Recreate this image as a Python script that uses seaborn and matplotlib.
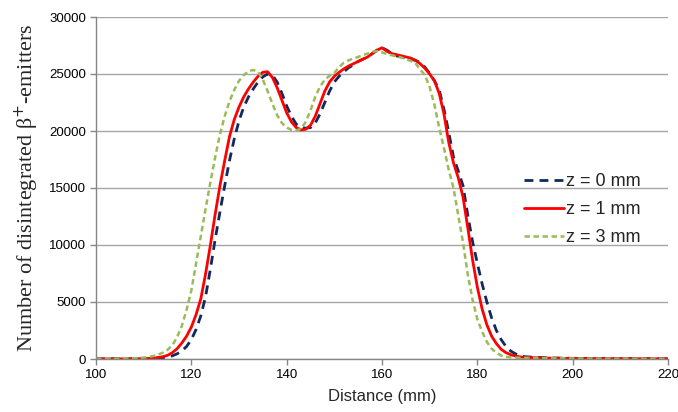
import matplotlib
matplotlib.use("Agg")
import matplotlib.pyplot as plt
import seaborn as sns
import pandas as pd

distance = [100, 105, 108,
            110, 111, 112, 113, 114, 115, 116, 117, 118, 119,
            120, 121, 122, 123, 124, 125, 126, 127, 128, 129,
            130, 131, 132, 133, 134, 135, 136, 137, 138, 139,
            140, 141, 142, 143, 144, 145, 146, 147, 148, 149,
            150, 151, 152, 153, 154, 155, 156, 157, 158, 159,
            160, 161, 162, 163, 164, 165, 166, 167, 168, 169,
            170, 171, 172, 173, 174, 175, 176, 177, 178, 179,
            180, 181, 182, 183, 184, 185, 186, 187, 188, 189,
            190, 195, 200, 210, 220]

z0 = [10, 15, 18,
      20, 30, 50, 80, 120, 180, 280, 450, 700, 1100,
      1700, 2600, 3800, 5500, 7900, 10500, 12900, 15200, 17400, 19300,
      20900, 22100, 23000, 23700, 24300, 24750, 25000, 24900, 24300, 23300,
      22200, 21300, 20600, 20300, 20250, 20300, 20700, 21500, 22500, 23500,
      24300, 24800, 25200, 25550, 25800, 26100, 26300, 26500, 26800, 27100,
      27300, 27100, 26800, 26600, 26500, 26400, 26300, 26200, 26000, 25600,
      25050, 24400, 23600, 21900, 19900, 17700, 16500, 15200, 12600, 10300,
      8400, 6600, 5000, 3600, 2500, 1700, 1100, 700, 450, 300,
      200, 90, 60, 30, 20]

z1 = [10, 15, 20,
      30, 50, 80, 130, 200, 320, 550, 900, 1400, 2000,
      2800, 3900, 5300, 7500, 10000, 12700, 15200, 17400, 19500, 21000,
      22100, 23000, 23700, 24300, 24800, 25150, 25200, 24700, 23800, 22700,
      21600, 20800, 20300, 20100, 20150, 20500, 21300, 22400, 23500, 24300,
      24800, 25150, 25450, 25700, 25900, 26100, 26300, 26500, 26800, 27100,
      27300, 27000, 26800, 26700, 26600, 26500, 26400, 26200, 25900, 25500,
      25000, 24400, 23300, 21500, 19000, 17200, 15900, 14200, 11500, 8700,
      6300, 4400, 3000, 2000, 1350, 850, 560, 380, 260, 180,
      140, 80, 50, 30, 20]

z3 = [15, 30, 60,
      120, 180, 260, 380, 550, 800, 1200, 1900, 2900, 4300,
      6000, 8400, 10800, 13200, 15500, 17700, 19700, 21300, 22600, 23600,
      24400, 24900, 25250, 25350, 25200, 24500, 23500, 22400, 21400, 20700,
      20300, 20100, 20050, 20200, 20800, 21800, 23000, 23900, 24500, 24850,
      25100, 25600, 26000, 26200, 26350, 26500, 26650, 26800, 26950, 27000,
      26900, 26750, 26650, 26550, 26450, 26300, 26150, 25950, 25400, 24900,
      23850, 22300, 20300, 18500, 16600, 15000, 12600, 10200, 7400, 5200,
      3500, 2400, 1500, 900, 550, 300, 200, 150, 120, 110,
      100, 70, 50, 30, 20]

labels = ["z = 0 mm", "z = 1 mm", "z = 3 mm"]
x_ticks = [100, 120, 140, 160, 180, 200, 220]
y_ticks = [0, 5000, 10000, 15000, 20000, 25000, 30000]

sns.set_theme(style="white")
plt.rcParams['font.family'] = ['Liberation Sans', 'DejaVu Sans']

fig = plt.figure(figsize=(6.78, 4.12), dpi=100)
ax = fig.add_axes([96/678, 1-359/412, (668-96)/678, (359-17)/412])

styles = [
    dict(color="#0F2A5C", linewidth=2.0, dashes=(3.2, 2.2)),
    dict(color="#FF0000", linewidth=2.0),
    dict(color="#9BBB59", linewidth=1.8, dashes=(2.2, 1.4)),
]
for vals, lab, st in zip([z0, z1, z3], labels, styles):
    df = pd.DataFrame({"Distance": distance, "Value": vals})
    sns.lineplot(data=df, x="Distance", y="Value", ax=ax, label=lab,
                 color=st["color"], linewidth=st["linewidth"])
    line = ax.get_lines()[-1]
    line.set_solid_joinstyle("round")
    if "dashes" in st:
        line.set_dashes(st["dashes"])

ax.set_xlim(100, 220)
ax.set_ylim(0, 30000)
ax.set_xticks(x_ticks)
ax.set_yticks(y_ticks)
ax.yaxis.grid(True, color="#A6A6A6", linewidth=1.0)
ax.set_axisbelow(True)
for s in ["top", "right"]:
    ax.spines[s].set_visible(False)
for s in ["left", "bottom"]:
    ax.spines[s].set_color("#868686")
    ax.spines[s].set_linewidth(1.0)
ax.tick_params(axis="both", which="major", length=4, width=1, color="#868686",
               labelsize=9.5, labelcolor="#000000", direction="out",
               bottom=True, left=True, pad=3)

ax.set_xlabel("Distance (mm)", fontsize=12, labelpad=6)
ax.set_ylabel("Number of disintegrated β$^{+}$-emitters", fontsize=16,
              family=["Liberation Serif", "DejaVu Serif"], labelpad=6)

leg = ax.legend(loc="upper left", bbox_to_anchor=(0.736, 0.565), frameon=False,
                fontsize=13, handlelength=2.2, handletextpad=0.1,
                labelspacing=0.62, borderaxespad=0)

fig.savefig("out.png", dpi=100)
